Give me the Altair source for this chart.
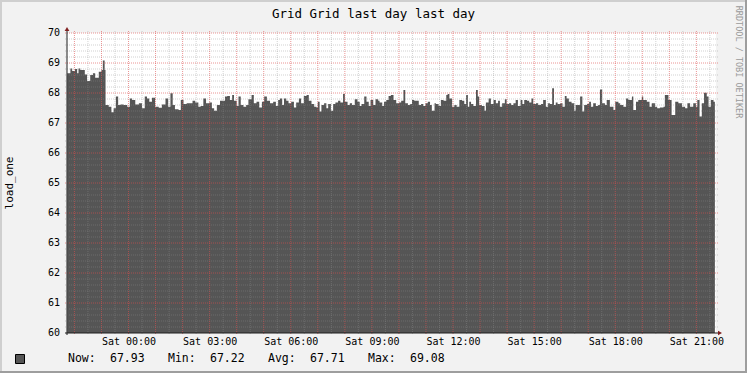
import altair as alt
import pandas as pd

# ---- data (minutes relative to Sat 00:00, load_one values) ----
minutes = [
    -136, -129, -125, -119, -114, -111, -107, -102, -97, -92, -85, -79, -74, -66, -60, -57, -53,
    -51, -44, -38, -33, -28, -23, -18, -11, -3, 3, 8, 15, 23, 30, 36, 41, 46, 52, 59, 67, 74, 82, 88, 93,
    98, 103, 111, 116, 122, 129, 135, 142, 148, 155, 160, 166, 172, 179, 185, 190, 196, 203, 210, 214,
    219, 225, 230, 234, 240, 244, 249, 255, 261, 266, 273, 278, 284, 290, 296, 301, 307, 314, 321, 327, 332,
    336, 341, 345, 350, 355, 361, 367, 372, 378, 383, 389, 395, 400, 406, 412, 417, 420, 424, 428, 434,
    439, 443, 449, 454, 459, 465, 470, 476, 480, 486, 491, 496, 502, 508, 513, 517, 523, 528, 533, 537,
    543, 548, 554, 557, 563, 567, 572,
    577, 582, 588, 594, 600, 605, 610, 614, 620, 625, 629, 634, 640, 644, 649, 654, 659, 664, 669, 673,
    679, 682, 688, 693, 699, 705, 708, 712, 718, 723, 728, 734, 740, 745, 749, 753, 756, 760, 765, 771,
    775, 778, 784, 790, 793, 799, 804, 810,
    815, 820, 824, 829, 835, 839, 844, 849, 854, 859, 864, 870, 874, 878, 884, 889, 894, 898, 904, 909,
    915, 920, 926, 931, 935, 940, 944, 948, 952, 958, 963, 968, 972, 977, 983, 989, 992, 996, 1002, 1007,
    1011, 1017, 1022, 1026, 1031, 1037, 1042, 1046, 1051,
    1057, 1061, 1068, 1076, 1080, 1087, 1091, 1098, 1104, 1109, 1117, 1120, 1126, 1131, 1139, 1142, 1150,
    1156, 1161, 1168, 1173, 1179, 1187, 1190, 1198, 1205, 1213, 1220, 1228, 1235, 1240, 1246, 1253, 1259,
    1262, 1267, 1272, 1277, 1283, 1287, 1292, 1298, 1301,
]
load_one = [
    68.66, 68.82, 68.73, 68.80, 68.66, 68.82, 68.77, 68.77, 68.62, 68.40, 68.60, 68.66, 68.51, 68.71, 68.77, 69.08, 68.77,
    67.60, 67.54, 67.36, 67.49, 67.88, 67.60, 67.62, 67.60, 67.54, 67.82, 67.77, 67.62, 67.66, 67.49, 67.88, 67.82, 67.71, 67.84, 67.54, 67.51, 67.62, 67.82, 67.54, 67.99,
    67.60, 67.46, 67.43, 67.77, 67.63, 67.66, 67.66, 67.74, 67.68, 67.54, 67.57, 67.82, 67.66, 67.68, 67.49, 67.41, 67.60, 67.74, 67.74, 67.88,
    67.90, 67.77, 67.93, 67.74, 67.57, 67.88, 67.60, 67.54, 67.60, 67.79, 67.93, 67.66, 67.71, 67.52, 67.71, 67.88, 67.74, 67.66, 67.71, 67.57, 67.77,
    67.82, 67.60, 67.82, 67.74, 67.66, 67.71, 67.52, 67.68, 67.82, 67.66, 67.90, 67.93, 67.74, 67.63, 67.54, 67.52, 67.71, 67.38, 67.60, 67.66,
    67.49, 67.63, 67.41, 67.63, 67.68, 67.74, 67.68, 67.97, 67.71, 67.60, 67.66, 67.60, 67.79, 67.71, 67.57, 67.63, 67.88, 67.71, 67.57, 67.77,
    67.60, 67.79, 67.74, 67.68, 67.57, 67.71, 67.77,
    67.90, 67.93, 67.77, 67.66, 67.68, 67.74, 68.10, 67.66, 67.60, 67.63, 67.77, 67.74, 67.74, 67.60, 67.63, 67.57, 67.66, 67.71, 67.60, 67.41,
    67.66, 67.63, 67.57, 67.77, 67.74, 67.93, 67.97, 67.82, 67.54, 67.60, 67.54, 67.77, 67.74, 67.63, 67.93, 67.54, 67.71, 67.63, 67.57, 68.10,
    67.88, 67.60, 67.57, 67.41, 67.68, 67.82, 67.63, 67.77,
    67.66, 67.74, 67.54, 67.66, 67.79, 67.63, 67.66, 67.60, 67.66, 67.77, 67.57, 67.77, 67.63, 67.77, 67.74, 67.68, 67.82, 67.63, 67.66, 67.60,
    67.63, 67.77, 67.54, 67.66, 67.63, 68.16, 67.60, 67.68, 67.63, 67.66, 67.54, 67.90, 67.82, 67.71, 67.66, 67.41, 67.60, 67.60, 67.88, 67.38,
    67.60, 67.63, 67.71, 67.54, 67.66, 67.57, 67.60, 68.12, 67.66,
    67.60, 67.77, 67.54, 67.43, 67.71, 67.66, 67.60, 67.54, 67.82, 67.77, 67.88, 67.43, 67.71, 67.77, 67.88, 67.77, 67.71,
    67.54, 67.66, 67.54, 67.49, 67.52, 67.54, 67.93, 67.77, 67.27, 67.71, 67.66, 67.54, 67.49, 67.66, 67.54, 67.66, 67.54,
    67.77, 67.22, 67.66, 68.01, 67.88, 67.54, 67.77, 67.71, 67.93,
]
x_label_minutes = [0, 180, 360, 540, 720, 900, 1080, 1260]
y_tick_values = [60, 61, 62, 63, 64, 65, 66, 67, 68, 69, 70]
stat_labels = ["Now:", "Min:", "Avg:", "Max:"]
stat_values = ["67.93", "67.22", "67.71", "69.08"]
title_text = "Grid Grid last day last day"
y_title = "load_one"
credit = "RRDTOOL / TOBI OETIKER"

W, H = 649, 300
MONO = "DejaVu Sans Mono"

df = pd.DataFrame({"t": minutes, "v": load_one})
xs = alt.Scale(domain=[-136.5, 1303.5], nice=False, zero=False)
ys = alt.Scale(domain=[60, 70], nice=False, zero=False)

one = pd.DataFrame({"a": [0]})

area = alt.Chart(df).mark_area(color="#555555", interpolate="step-after", opacity=1).encode(
    x=alt.X("t:Q", scale=xs, title=None,
            axis=alt.Axis(values=x_label_minutes,
                          labelExpr="'Sat ' + (datum.value < 600 ? '0' : '') + floor(datum.value/60) + ':00'",
                          grid=False, ticks=False, domain=False, labelFont=MONO, labelFontSize=10,
                          labelColor="#000000", labelPadding=3, labelFlush=False, labelOverlap=False)),
    y=alt.Y("v:Q", scale=ys, axis=None),
    y2=alt.datum(60),
)

# y tick labels
ylab = alt.Chart(pd.DataFrame({"v": y_tick_values})).mark_text(
    font=MONO, fontSize=10, align="right", baseline="middle", color="#000000"
).encode(y=alt.Y("v:Q", scale=ys, axis=None), x=alt.value(-7), text=alt.Text("v:Q", format="d"))

# grid positions
vmajor = pd.DataFrame({"t": list(range(-120, 1261, 60))})
vminor = pd.DataFrame({"t": list(range(-90, 1291, 60))})
hmajor = pd.DataFrame({"v": list(range(61, 71))})
hminor = pd.DataFrame({"v": [60 + k / 5 for k in range(1, 50) if k % 5 != 0]})

GRID = dict(color="#8F8F8F", opacity=0.4, strokeDash=[1, 1], strokeWidth=1)
MGRID = dict(color="#DE4F4F", opacity=0.6, strokeDash=[1, 1], strokeWidth=1)

g1 = alt.Chart(vminor).mark_rule(**GRID).encode(x=alt.X("t:Q", scale=xs), y=alt.value(-2), y2=alt.value(H + 2))
g2 = alt.Chart(hminor).mark_rule(**GRID).encode(y=alt.Y("v:Q", scale=ys, axis=None), x=alt.value(-2), x2=alt.value(W + 2))
g3 = alt.Chart(vmajor).mark_rule(**MGRID).encode(x=alt.X("t:Q", scale=xs), y=alt.value(-2), y2=alt.value(H + 2))
g4 = alt.Chart(hmajor).mark_rule(**MGRID).encode(y=alt.Y("v:Q", scale=ys, axis=None), x=alt.value(-2), x2=alt.value(W + 2))

AX = "#1F1F1F"
xaxis = alt.Chart(one).mark_rule(color=AX, strokeWidth=1).encode(x=alt.value(-2), x2=alt.value(W + 4), y=alt.value(H))
yaxis = alt.Chart(one).mark_rule(color=AX, strokeWidth=1).encode(x=alt.value(0), y=alt.value(-4), y2=alt.value(H + 2))
arrow_up = alt.Chart(one).mark_point(shape="triangle-up", filled=True, color="#801F1F", size=22, opacity=1).encode(
    x=alt.value(0), y=alt.value(-4))
arrow_right = alt.Chart(one).mark_point(shape="triangle-right", filled=True, color="#801F1F", size=22, opacity=1).encode(
    x=alt.value(W + 4), y=alt.value(H))

title = alt.Chart(one).mark_text(text=title_text, font=MONO, fontSize=12.5, align="center", baseline="middle",
                                 color="#000000").encode(x=alt.value(306.5), y=alt.value(-19))
ytitle = alt.Chart(one).mark_text(text=y_title, font=MONO, fontSize=11, angle=270, align="center",
                                  baseline="middle", color="#000000").encode(x=alt.value(-57), y=alt.value(150))
credit_t = alt.Chart(one).mark_text(text=credit, font=MONO, fontSize=8.5, angle=90, align="center",
                                    baseline="middle", color="#9A9A9A").encode(x=alt.value(672), y=alt.value(29))

legend_box = alt.Chart(one).mark_rect(fill="#555555", stroke="#000000", strokeWidth=1).encode(
    x=alt.value(-51.5), x2=alt.value(-42.5), y=alt.value(321.5), y2=alt.value(330.5))

legend_layers = []
for i, (lab, val) in enumerate(zip(stat_labels, stat_values)):
    legend_layers.append(alt.Chart(one).mark_text(text=lab, font=MONO, fontSize=11.5, align="left",
                                                  baseline="middle", color="#000000").encode(
        x=alt.value(1 + 100 * i), y=alt.value(326)))
    legend_layers.append(alt.Chart(one).mark_text(text=val, font=MONO, fontSize=11.5, align="left",
                                                  baseline="middle", color="#000000").encode(
        x=alt.value(43 + 100 * i), y=alt.value(326)))

# outer frame (shade A top/left, shade B bottom/right)
fr_top = alt.Chart(one).mark_rule(color="#CFCFCF", strokeWidth=2).encode(x=alt.value(-67), x2=alt.value(W + 31), y=alt.value(-32))
fr_left = alt.Chart(one).mark_rule(color="#CFCFCF", strokeWidth=2).encode(x=alt.value(-66), y=alt.value(-33), y2=alt.value(H + 40))
fr_bot = alt.Chart(one).mark_rule(color="#9E9E9E", strokeWidth=2).encode(x=alt.value(-67), x2=alt.value(W + 31), y=alt.value(H + 39))
fr_right = alt.Chart(one).mark_rule(color="#9E9E9E", strokeWidth=2).encode(x=alt.value(W + 30), y=alt.value(-33), y2=alt.value(H + 40))

chart = alt.layer(
    area, g1, g2, g3, g4, xaxis, yaxis, arrow_up, arrow_right, ylab,
    title, ytitle, credit_t, legend_box, *legend_layers,
    fr_top, fr_left, fr_bot, fr_right,
).properties(
    width=W, height=H,
    padding={"left": 67, "top": 33, "right": 31, "bottom": 40},
    autosize="none",
    background="#F2F2F2",
).configure_view(fill="#FFFFFF", stroke=None)

chart.save("out.html", embed_options={"renderer": "svg", "actions": False})
